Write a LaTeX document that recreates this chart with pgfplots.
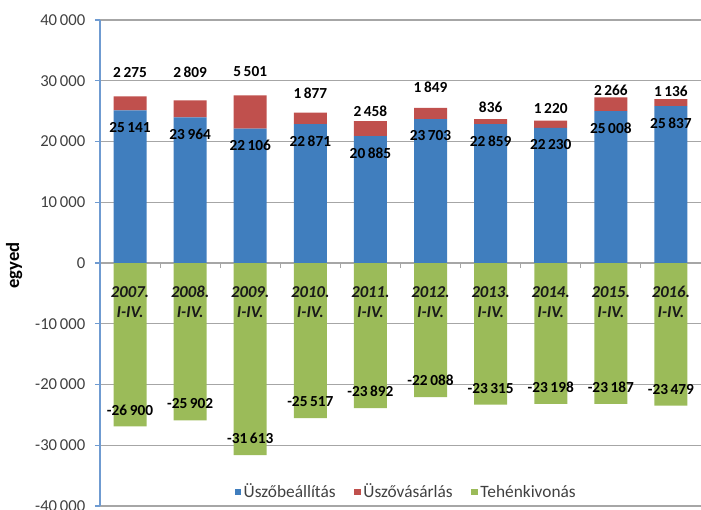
\documentclass[border=0pt]{standalone}
\usepackage{fontspec}
\setmainfont{Carlito}
\usepackage{pgfplots}
\usepackage{pgfplotstable}
\pgfplotsset{compat=1.18}
\definecolor{cBlue}{HTML}{407EBE}
\definecolor{cRed}{HTML}{C0504D}
\definecolor{cGreen}{HTML}{9BBB59}
\definecolor{cGrid}{HTML}{A6A6A6}
\definecolor{cAxis}{HTML}{6F9BD1}
\definecolor{cTick}{HTML}{404040}

\pgfkeys{/pgf/number format/.cd, fixed, precision=0, 1000 sep={\,}, assume math mode=true}

\pgfplotstableread{
x blue red green
1 25141 2275 -26900
2 23964 2809 -25902
3 22106 5501 -31613
4 22871 1877 -25517
5 20885 2458 -23892
6 23703 1849 -22088
7 22859 836 -23315
8 22230 1220 -23198
9 25008 2266 -23187
10 25837 1136 -23479
}\datatable

\pgfplotsset{
  common/.style={
    width=450.75pt, height=364.5pt, scale only axis,
    xmin=0.5, xmax=10.5, ymin=-40000, ymax=40000,
    bar width=24.75pt,
  },
}

\begin{document}
\begin{tikzpicture}
\begin{axis}[common, ybar stacked,
  axis y line=left, axis x line=middle, axis line style={-},
  y axis line style={cAxis, line width=0.8pt},
  x axis line style={cGrid, line width=0.8pt},
  ytick={-40000,-30000,...,40000}, scaled y ticks=false,
  yticklabel={\pgfmathprintnumber[assume math mode=true]{\tick}},
  /pgf/number format/assume math mode=true,
  ymajorgrids, grid style={cGrid, line width=0.8pt},
  yticklabel style={color=cTick, font=\fontsize{12.5}{14}\selectfont, xshift=-3.75pt},
  tick align=outside, major tick length=3.75pt,
  ytick style={cAxis, line width=0.8pt},
  xtick={1.5,2.5,...,9.5}, xticklabel=\empty,
  xtick style={cGrid, line width=0.8pt},
  ylabel={egyed},
  every axis y label/.style={at={(axis description cs:-0.143,0.495)}, rotate=90, anchor=center, font=\bfseries\fontsize{14}{16}\selectfont},
]
\addplot[fill=cBlue, draw=none, nodes near coords, point meta=explicit,
  visualization depends on={value \coordindex \as \idx},
  every node near coord/.append style={anchor=center, yshift={{44.52,41.84,37.61,39.35,34.83,41.25,39.33,37.89,44.22,46.11}[\idx]*1pt}, font=\bfseries\fontsize{11.5}{13}\selectfont, text=black}]
  table[x=x, y=blue, meta=blue] {\datatable};
\addplot[fill=cRed, draw=none, nodes near coords, point meta=explicit,
  visualization depends on={value \coordindex \as \idx},
  every node near coord/.append style={anchor=center, yshift={{23.18,27.40,30.53,18.53,13.10,19.96,10.90,11.78,10.41,8.59}[\idx]*1pt}, font=\bfseries\fontsize{11.5}{13}\selectfont, text=black}]
  table[x=x, y=red, meta=red] {\datatable};
\end{axis}
\begin{axis}[common, ybar, bar shift=0pt, axis on top,
  axis x line=middle, axis y line=none, axis line style={draw=none},
  ytick=\empty, xtick={1,...,10}, major tick length=0pt,
  xticklabels={{2007.\\I-IV.},{2008.\\I-IV.},{2009.\\I-IV.},{2010.\\I-IV.},{2011.\\I-IV.},{2012.\\I-IV.},{2013.\\I-IV.},{2014.\\I-IV.},{2015.\\I-IV.},{2016.\\I-IV.}},
  xticklabel style={align=center, anchor=center, yshift=-29.25pt, font=\bfseries\itshape\fontsize{12.5}{15}\selectfont, text=black!90},
  legend columns=3,
  legend image code/.code={\draw[#1,/tikz/.cd,draw=none] (0pt,-2.4pt) rectangle (4.8pt,2.4pt);},
  legend style={at={(axis description cs:0.51,0.0288)}, anchor=center, draw=none, fill=none,
    font=\fontsize{13}{15}\selectfont, text=cTick,
    /tikz/every even column/.append style={column sep=12pt}},
]
\addlegendimage{fill=cBlue, draw=none}
\addlegendentry{Üszőbeállítás}
\addlegendimage{fill=cRed, draw=none}
\addlegendentry{Üszővásárlás}
\addplot[fill=cGreen, draw=none, nodes near coords, point meta=explicit,
  every node near coord/.append style={anchor=center, yshift=12.4pt, font=\bfseries\fontsize{11.5}{13}\selectfont, text=black}]
  table[x=x, y=green, meta=green] {\datatable};
\addlegendentry{Tehénkivonás}
\end{axis}
\pgfresetboundingbox
\path[use as bounding box] (-75pt,-3pt) rectangle (450.75pt,379.5pt);
\end{tikzpicture}
\end{document}
